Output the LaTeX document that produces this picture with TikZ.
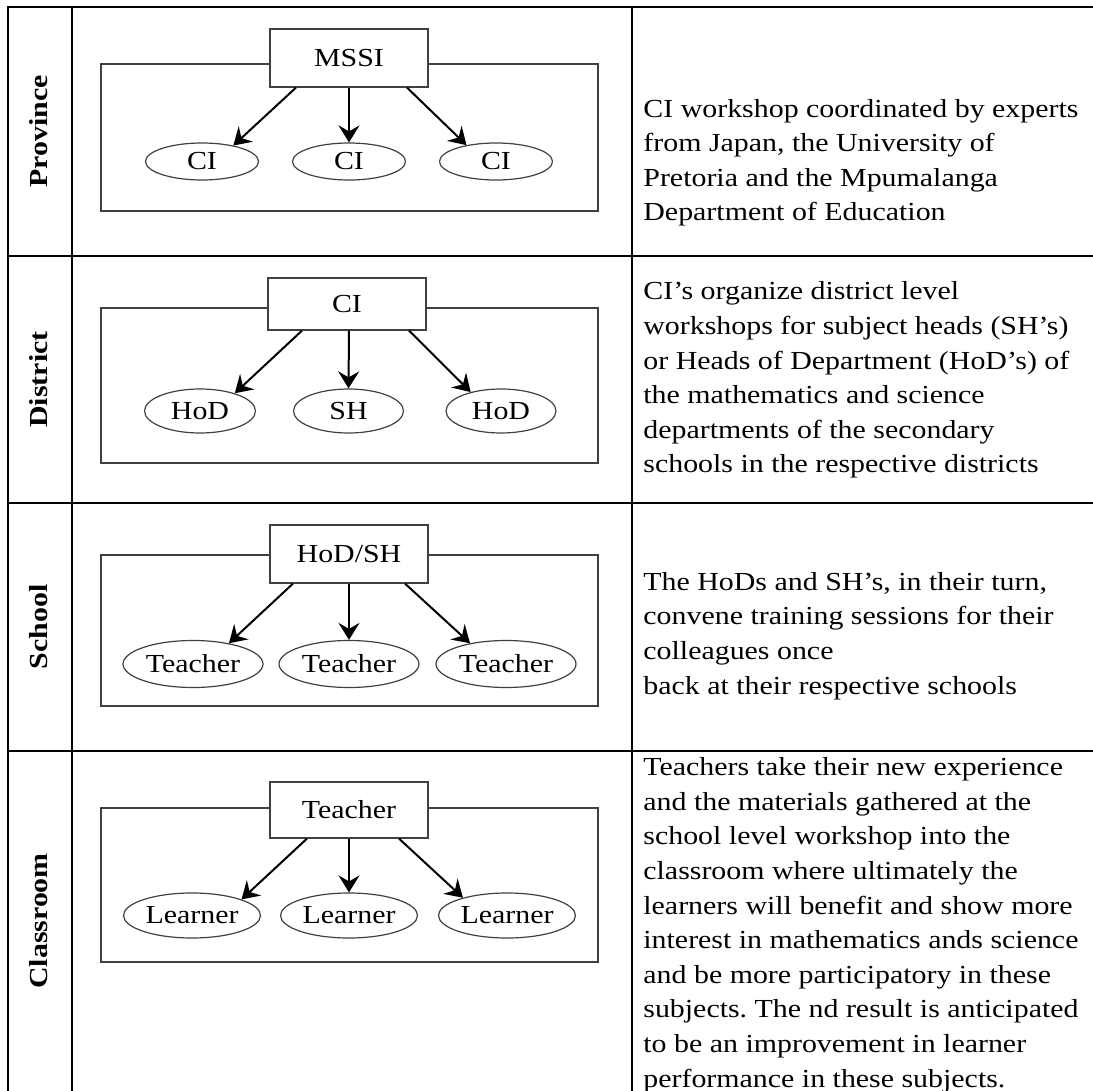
\documentclass[tikz,border=0pt]{standalone}
\usepackage{fontspec}
\setmainfont[FakeStretch=1.15]{Liberation Serif}
\usetikzlibrary{shapes.geometric,arrows.meta,calc}
\frenchspacing
\begin{document}
\begin{tikzpicture}[x=0.5pt,y=-0.5pt,
  txt/.style={font=\fontsize{13pt}{17.3pt}\selectfont},
  tbl/.style={line width=1.3pt,line cap=rect},
  col/.style={line width=0.65pt},
  frame/.style={draw=black!75,line width=0.6pt},
  dbox/.style={txt,rectangle,draw=black!75,line width=0.6pt,fill=white,minimum width=79pt,inner sep=0pt},
  ell/.style={txt,ellipse,draw=black!75,line width=0.6pt,inner sep=0pt},
  arr/.style={-{Stealth[length=8.5pt,width=10.5pt,inset=3pt]},line width=1pt},
  lab/.style={font=\fontsize{13pt}{14pt}\selectfont\bfseries,rotate=90,inner sep=0pt},
  desc/.style={txt,anchor=base west,align=left,inner sep=0pt}]
\useasboundingbox (0,0) rectangle (1093,1091);
% table lines
\draw[tbl] (8,7) -- (1093,7);
\draw[tbl] (8,7) -- (8,1091);
\draw[tbl] (8,256) -- (1093,256);
\draw[tbl] (8,503) -- (1093,503);
\draw[tbl] (8,751) -- (1093,751);
\draw[col] (72,7) -- (72,1091);
\draw[col] (632,7) -- (632,1091);
% row labels
\node[lab] (lprov) at (39,131.5) {Province};
\node[lab] (ldist) at (39,379.5) {District};
\node[lab] (lsch) at (39,627) {School};
\node[lab] (lcls) at (39,921) {Classroom};
% ---------- Province
\draw[frame] (101,64) rectangle (598,211);
\node[dbox,minimum height=29pt] (mssi) at (349,58) {MSSI};
\node[ell,minimum width=56.5pt,minimum height=18.5pt] (pci1) at (202,161.5) {CI};
\node[ell,minimum width=56.5pt,minimum height=18.5pt] (pci2) at (349,161.5) {CI};
\node[ell,minimum width=56.5pt,minimum height=18.5pt] (pci3) at (496,161.5) {CI};
\draw[arr] ($(mssi.south)+(-53,0)$) -- (pci1.27);
\draw[arr] (mssi.south) -- (pci2.north);
\draw[arr] ($(mssi.south)+(58,0)$) -- (pci3.151);
\node[desc] (tprov) at (643,221) {CI workshop coordinated by experts\\from Japan, the University of\\Pretoria and the Mpumalanga\\Department of Education};
% ---------- District
\draw[frame] (101,308) rectangle (598,463);
\node[dbox,minimum height=26pt] (dci) at (347,304) {CI};
\node[ell,minimum width=55.5pt,minimum height=22pt] (hod1) at (200,411) {HoD};
\node[ell,minimum width=55pt,minimum height=22pt] (sh) at (348.5,411) {SH};
\node[ell,minimum width=55pt,minimum height=22pt] (hod2) at (501,411) {HoD};
\draw[arr] ($(dci.south)+(-45,0)$) -- (hod1.27);
\draw[arr] ($(dci.south)+(2,0)$) -- (sh.north);
\draw[arr] ($(dci.south)+(62,0)$) -- (hod2.148);
\node[desc] (tdist) at (643,473) {CI’s organize district level\\workshops for subject heads (SH’s)\\or Heads of Department (HoD’s) of\\the mathematics and science\\departments of the secondary\\schools in the respective districts};
% ---------- School
\draw[frame] (101,555) rectangle (598,706);
\node[dbox,minimum height=29pt] (hodsh) at (349,554) {HoD/SH};
\node[ell,minimum width=70pt,minimum height=23.5pt] (tea1) at (193,664) {Teacher};
\node[ell,minimum width=70pt,minimum height=23.5pt] (tea2) at (349,664) {Teacher};
\node[ell,minimum width=70pt,minimum height=23.5pt] (tea3) at (506,664) {Teacher};
\draw[arr] ($(hodsh.south)+(-56,0)$) -- (tea1.30);
\draw[arr] (hodsh.south) -- (tea2.north);
\draw[arr] ($(hodsh.south)+(56,0)$) -- (tea3.150);
\node[desc] (tsch) at (643,694) {The HoDs and SH’s, in their turn,\\convene training sessions for their\\colleagues once\\back at their respective schools};
% ---------- Classroom
\draw[frame] (101,808) rectangle (598,962);
\node[dbox,minimum height=28pt] (ctea) at (349,810) {Teacher};
\node[ell,minimum width=68.5pt,minimum height=22.5pt] (lea1) at (192,915.5) {Learner};
\node[ell,minimum width=68.5pt,minimum height=22.5pt] (lea2) at (349,915.5) {Learner};
\node[ell,minimum width=68.5pt,minimum height=22.5pt] (lea3) at (507,915.5) {Learner};
\draw[arr] ($(ctea.south)+(-42,0)$) -- (lea1.18);
\draw[arr] (ctea.south) -- (lea2.north);
\draw[arr] ($(ctea.south)+(50,0)$) -- (lea3.158);
\node[desc] (tcls) at (643,1087) {Teachers take their new experience\\and the materials gathered at the\\school level workshop into the\\classroom where ultimately the\\learners will benefit and show more\\interest in mathematics ands science\\and be more participatory in these\\subjects. The nd result is anticipated\\to be an improvement in learner\\performance in these subjects.};
\end{tikzpicture}
\end{document}
